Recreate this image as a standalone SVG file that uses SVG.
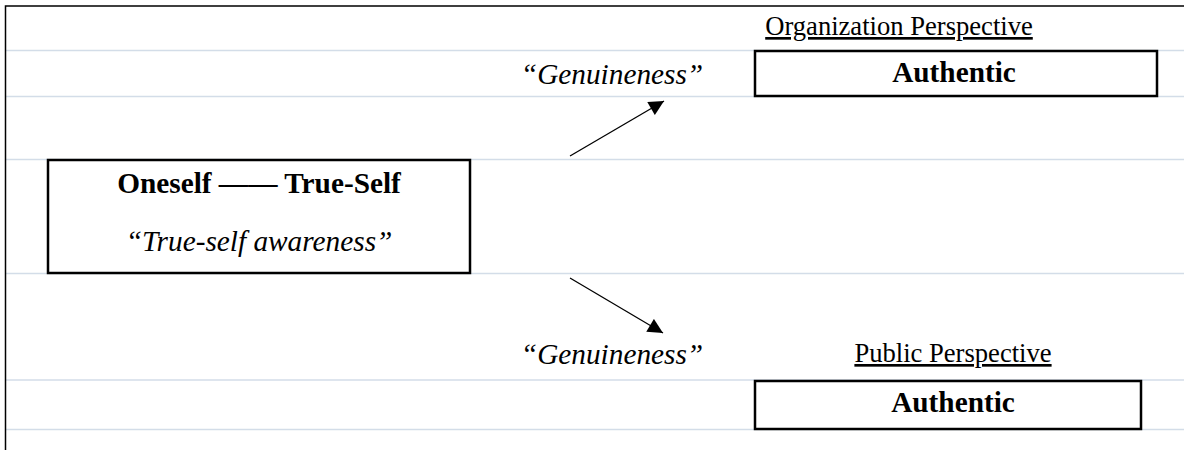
<svg xmlns="http://www.w3.org/2000/svg" width="1184" height="450" viewBox="0 0 1184 450">
<style>
.rule{stroke:#d3dde8;stroke-width:1.5;}
.frame{stroke:#000;stroke-width:1.5;fill:none;}
.box{fill:#fff;stroke:#000;stroke-width:2.5;}
text{font-family:'Liberation Serif','Times New Roman',Times,'DejaVu Serif',serif;fill:#000;}
.b{font-weight:bold;font-size:29.3px;}
.i{font-style:italic;font-size:29.3px;}
.u{font-size:26.6px;text-decoration:underline;}
.arrow{stroke:#000;stroke-width:1.3;fill:none;marker-end:url(#ah);}
</style>
<defs>
<marker id="ah" viewBox="0 0 10 10" refX="10" refY="5" markerUnits="userSpaceOnUse" markerWidth="17" markerHeight="15" orient="auto">
<path d="M0,0 L10,5 L0,10 z" fill="#000"/>
</marker>
</defs>
<rect width="1184" height="450" fill="#fff"/>
<g id="rules">
<line class="rule" x1="6" y1="50.5" x2="1184" y2="50.5"/>
<line class="rule" x1="6" y1="96.5" x2="1184" y2="96.5"/>
<line class="rule" x1="6" y1="159.5" x2="1184" y2="159.5"/>
<line class="rule" x1="6" y1="273.5" x2="1184" y2="273.5"/>
<line class="rule" x1="6" y1="380" x2="1184" y2="380"/>
<line class="rule" x1="6" y1="429.5" x2="1184" y2="429.5"/>
</g>
<g id="frame">
<path class="frame" d="M5.5,450 V6 H1184"/>
</g>
<g id="org-label">
<text class="u" x="899" y="35" text-anchor="middle">Organization Perspective</text>
</g>
<g id="authentic-org">
<rect class="box" x="755" y="51" width="402" height="45"/>
<text class="b" x="954" y="82" text-anchor="middle">Authentic</text>
</g>
<g id="genuineness-top">
<text class="i" x="612" y="84" text-anchor="middle">“Genuineness”</text>
</g>
<g id="self">
<rect class="box" x="48" y="160" width="422" height="113"/>
<text class="b" x="259" y="193" text-anchor="middle">Oneself —— True-Self</text>
<text class="i" x="259" y="251" text-anchor="middle">“True-self awareness”</text>
</g>
<g id="genuineness-bottom">
<text class="i" x="612" y="364" text-anchor="middle">“Genuineness”</text>
</g>
<g id="public-label">
<text class="u" x="953" y="362" text-anchor="middle">Public Perspective</text>
</g>
<g id="authentic-public">
<rect class="box" x="755" y="381" width="386" height="48"/>
<text class="b" x="953" y="412" text-anchor="middle">Authentic</text>
</g>
<g id="connectors">
<line class="arrow" x1="570" y1="156" x2="664" y2="101"/>
<line class="arrow" x1="570" y1="278" x2="663" y2="333"/>
</g>
</svg>
